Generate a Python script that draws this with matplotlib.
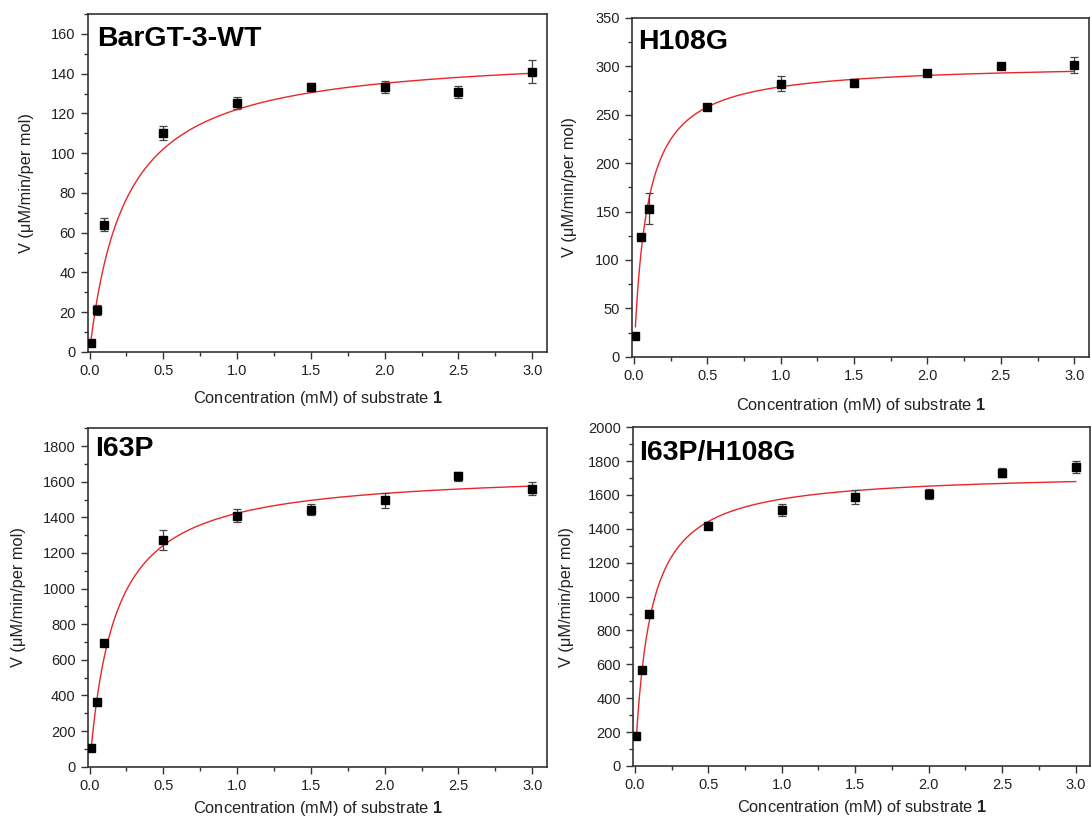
import matplotlib
matplotlib.use('Agg')
import matplotlib.pyplot as plt
from matplotlib.ticker import MultipleLocator, FormatStrFormatter
import numpy as np

plt.rcParams['font.family'] = ['Liberation Sans', 'DejaVu Sans']
plt.rcParams['mathtext.fontset'] = 'custom'
plt.rcParams['mathtext.rm'] = 'Liberation Sans'
plt.rcParams['mathtext.bf'] = 'Liberation Sans:bold'

# substrate concentrations (mM), same for all enzymes
conc = [0.01, 0.05, 0.1, 0.5, 1.0, 1.5, 2.0, 2.5, 3.0]

names = ['BarGT-3-WT', 'H108G', 'I63P', 'I63P/H108G']

# measured rates and standard deviations
v_wt = [4.5, 21.0, 64.1, 110.1, 125.4, 133.3, 133.3, 130.6, 141.0]
err_wt = [1.0, 2.5, 3.5, 3.5, 3.0, 2.0, 3.0, 3.0, 5.7]

v_h108g = [21.4, 123.5, 152.8, 258.0, 282.1, 282.8, 293.5, 300.0, 301.4]
err_h108g = [1.0, 2.0, 15.9, 2.0, 7.8, 2.0, 2.0, 2.0, 7.8]

v_i63p = [106.5, 364.5, 695.4, 1271, 1410, 1443, 1495, 1630, 1561]
err_i63p = [10, 10, 15, 56, 37, 30, 42, 24, 37]

v_double = [179, 567, 898, 1419, 1512, 1590, 1606, 1732, 1764]
err_double = [10, 10, 15, 20, 34, 41, 30, 28, 36]

# Michaelis-Menten fit parameters (Vmax, Km)
vmax = [151.5, 303.5, 1665, 1736]
km = [0.242, 0.0881, 0.17, 0.1014]

rates = [v_wt, v_h108g, v_i63p, v_double]
errors = [err_wt, err_h108g, err_i63p, err_double]

# axis settings per panel: ymax, major step, minor step
ymaxes = [170, 350, 1900, 2000]
ymajor = [20, 50, 200, 200]
yminor = [10, 25, 100, 100]

# panel placement in figure fractions
rects = [[0.0807, 0.5697, 0.4207, 0.4132],
         [0.5797, 0.5639, 0.4184, 0.4141],
         [0.0807, 0.0627, 0.4207, 0.4137],
         [0.5805, 0.0636, 0.4189, 0.4141]]
title_pos = [(0.02, 0.925), (0.012, 0.929), (0.015, 0.939), (0.013, 0.924)]
ylabel_x = [-0.118, -0.122, -0.135, -0.13]
xlabel_y = [-0.109, -0.115, -0.095, -0.095]

fig = plt.figure(figsize=(10.91, 8.18), dpi=100)

for i in range(4):
    ax = fig.add_axes(rects[i])

    # fitted curve
    xs = np.linspace(conc[0], conc[-1], 400)
    ax.plot(xs, vmax[i] * xs / (km[i] + xs), color='#e8262a', lw=1.0, zorder=2)

    ax.errorbar(conc, rates[i], yerr=errors[i], fmt='s', color='black',
                ms=5.5, ecolor='#444444', elinewidth=0.9, capsize=3,
                capthick=0.9, zorder=3)

    ax.set_xlim(-0.01, 3.1)
    ax.set_ylim(0, ymaxes[i])
    ax.xaxis.set_major_locator(MultipleLocator(0.5))
    ax.xaxis.set_minor_locator(MultipleLocator(0.25))
    ax.yaxis.set_major_locator(MultipleLocator(ymajor[i]))
    ax.yaxis.set_minor_locator(MultipleLocator(yminor[i]))
    ax.xaxis.set_major_formatter(FormatStrFormatter('%.1f'))

    ax.tick_params(which='major', direction='out', length=5, width=1,
                   color='#333333', labelsize=10.5, labelcolor='#222222', pad=4)
    ax.tick_params(which='minor', direction='out', length=3, width=1,
                   color='#333333')
    ax.tick_params(top=False, right=False, which='both')
    for s in ax.spines.values():
        s.set_color('#333333')
        s.set_linewidth(1.2)

    ax.set_xlabel('Concentration (mM) of substrate $\\mathbf{1}$',
                  fontsize=11.8, color='#222222')
    ax.set_ylabel('V (\u03bcM/min/per mol)', fontsize=11.8, color='#222222')
    ax.xaxis.set_label_coords(0.5, xlabel_y[i])
    ax.yaxis.set_label_coords(ylabel_x[i], 0.5)

    ax.text(title_pos[i][0], title_pos[i][1], names[i], transform=ax.transAxes,
            fontsize=20.5, fontweight='bold', ha='left', va='center')

plt.savefig('out.png', dpi=100)
